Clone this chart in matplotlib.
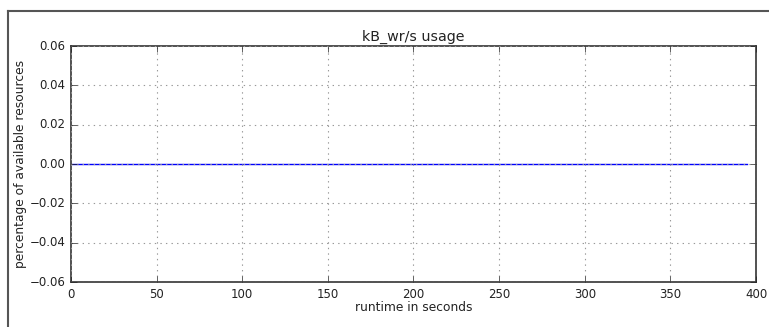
import matplotlib
matplotlib.use("Agg")
import matplotlib.pyplot as plt
from matplotlib.lines import Line2D

plt.style.use("classic")

runtime = [0, 25, 50, 75, 100, 125, 150, 175, 200, 225, 250, 275, 300, 325, 350, 375, 395]
usage = [0.0, 0.0, 0.0, 0.0, 0.0, 0.0, 0.0, 0.0, 0.0, 0.0, 0.0, 0.0, 0.0, 0.0, 0.0, 0.0, 0.0]

fig = plt.figure(figsize=(7.69, 3.27), dpi=100, facecolor="white")
ax = fig.add_axes([0.0923, 0.1376, 0.8908, 0.7216])

ax.plot(runtime, usage, color="#0000ff", linewidth=1.0)
ax.set_xlim(0, 400)
ax.set_ylim(-0.06, 0.06)
ax.set_xticks([0, 50, 100, 150, 200, 250, 300, 350, 400])
ax.set_yticks([-0.06, -0.04, -0.02, 0.0, 0.02, 0.04, 0.06])
ax.grid(True, linestyle=":", color="#999999", linewidth=0.8)
ax.tick_params(labelsize=8.5, direction="in", length=4, colors="#222222")
for sp in ax.spines.values():
    sp.set_color("#333333")
    sp.set_linewidth(1.2)

ax.set_title("kB_wr/s usage", fontsize=10.3, color="#222222", pad=4)
ax.set_xlabel("runtime in seconds", fontsize=8.8, color="#222222", labelpad=0)
ax.set_ylabel("percentage of available resources", fontsize=8.8, color="#222222", labelpad=2)

# screenshot frame at top and left
fig.add_artist(Line2D([7.5 / 769, 7.5 / 769], [0, 1 - 10.5 / 327], transform=fig.transFigure,
                      color="#555555", linewidth=1.5))
fig.add_artist(Line2D([7.5 / 769, 1], [1 - 10.5 / 327, 1 - 10.5 / 327], transform=fig.transFigure,
                      color="#555555", linewidth=1.5))

fig.savefig("out.png", dpi=100, facecolor="white")
